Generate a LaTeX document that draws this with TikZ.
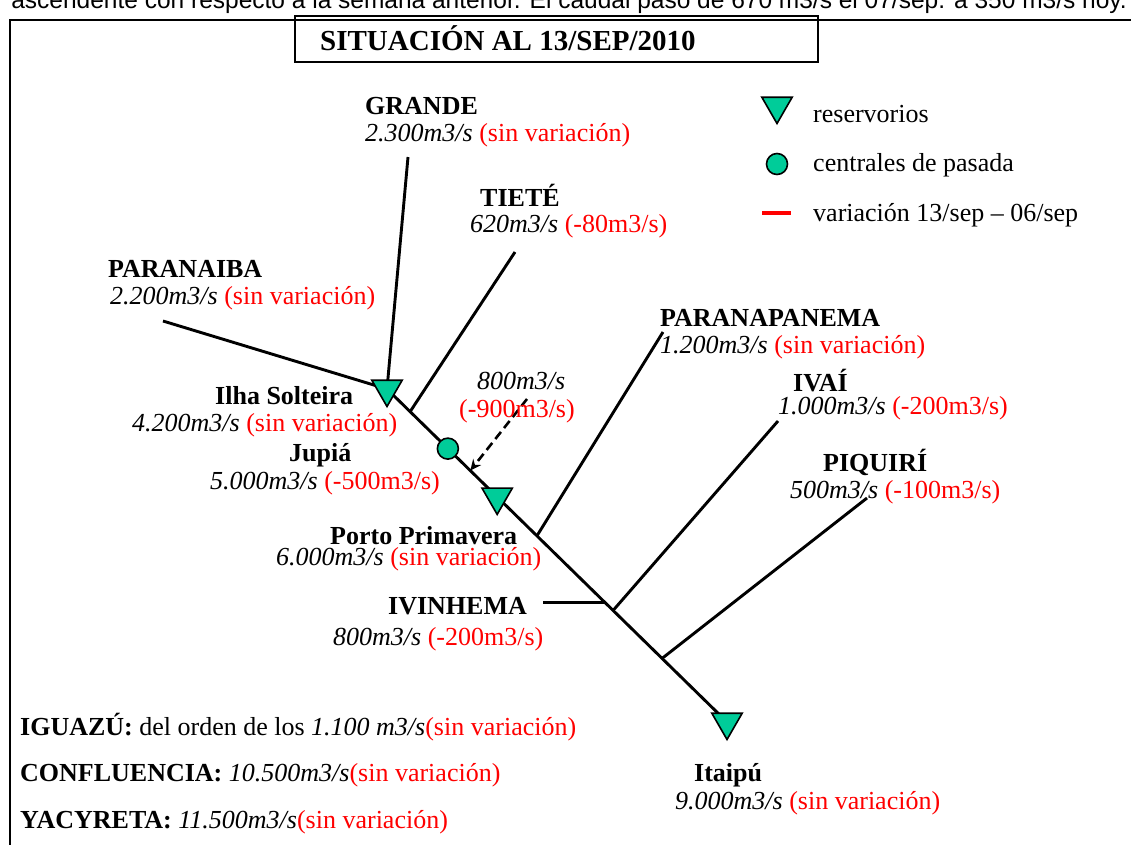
\documentclass[tikz,border=0pt]{standalone}
\usepackage{fontspec}
\setmainfont{Liberation Serif}
\newfontfamily\topsans{Liberation Sans}
\usetikzlibrary{shapes.geometric,arrows.meta,calc}
\definecolor{tealfill}{RGB}{0,204,153}
\definecolor{redtxt}{RGB}{255,0,0}
\newcommand{\rv}[1]{\textcolor{redtxt}{#1}}
\tikzset{
  lbl/.style={anchor=base west, inner sep=0pt, font=\fontsize{26}{30}\selectfont},
  blbl/.style={lbl, font=\bfseries\fontsize{26}{30}\selectfont},
  river/.style={line width=2.9pt},
  resv/.style={regular polygon, regular polygon sides=3, shape border rotate=180, draw, line width=1.6pt, fill=tealfill, inner sep=0pt, minimum size=35pt},
  pasada/.style={circle, draw, line width=1.6pt, fill=tealfill, inner sep=0pt, minimum size=21pt},
  frame/.style={line width=2.5pt},
}
\begin{document}
\begin{tikzpicture}[x=1pt,y=-1pt]
\useasboundingbox (0,0) rectangle (1131,844);
% cut-off line of text above the frame
\node[anchor=base east, inner sep=0pt, font=\topsans\fontsize{24.5}{28}\selectfont] (toptext) at (1127,8) {ascendente con respecto a la semana anterior. El caudal pasó de 670 m3/s el 07/sep. a 350 m3/s hoy.};
% frame
\draw[frame] (10,850) -- (10,20) -- (1140,20);
% title
\draw[frame] (295,16) rectangle (818,62);
\node[anchor=base west, inner sep=0pt, font=\bfseries\fontsize{29}{33}\selectfont] (title) at (320,50) {SITUACIÓN AL 13/SEP/2010};

% legend
\node[resv] (legres) at (777,106) {};
\node[lbl] (legrestxt) at (813,122) {reservorios};
\node[pasada] (legpas) at (777,164) {};
\node[lbl] (legpastxt) at (813,171) {centrales de pasada};
\coordinate (legvarA) at (762,213);
\coordinate (legvarB) at (791,213);
\draw[redtxt, line width=4pt] (legvarA) -- (legvarB);
\node[lbl] (legvartxt) at (813,221) {variación 13/sep – 06/sep};

% river network coordinates
\coordinate (ilhaC) at (387,389);
\coordinate (itaC) at (727,722);
\coordinate (parS) at (163,321);
\coordinate (graS) at (408,157);
\coordinate (tieS) at (515,252);
\coordinate (ppS) at (663,332);
\coordinate (ivaS) at (778,421);
\coordinate (piqS) at (867,498);
\coordinate (ivnS) at (543,604);
\coordinate (arrS) at (527,399);
\coordinate (jTie) at ($(ilhaC)!0.068!(itaC)$);
\coordinate (jupC) at ($(ilhaC)!0.179!(itaC)$);
\coordinate (jArr) at ($(ilhaC)!0.245!(itaC)$);
\coordinate (ppC) at ($(ilhaC)!0.324!(itaC)$);
\coordinate (jPP) at ($(ilhaC)!0.441!(itaC)$);
\coordinate (jIvn) at ($(ilhaC)!0.64!(itaC)$);
\coordinate (jIva) at ($(ilhaC)!0.665!(itaC)$);
\coordinate (jPiq) at ($(ilhaC)!0.809!(itaC)$);

% rivers
\draw[river] (parS) -- (ilhaC) -- (itaC);
\draw[river] (graS) -- (ilhaC);
\draw[river] (tieS) -- (jTie);
\draw[river] (ppS) -- (jPP);
\draw[river] (ivaS) -- (jIva);
\draw[river] (piqS) -- (jPiq);
\draw[river] (ivnS |- jIvn) -- (jIvn);
\draw[line width=2.6pt, dash pattern=on 9pt off 5pt, -{Stealth[length=11pt,width=10pt]}] (arrS) -- (jArr);

% plants
\node[resv] (ilha) at (ilhaC) {};
\node[pasada] (jupia) at (jupC) {};
\node[resv] (porto) at (ppC) {};
\node[resv] (itaipu) at (itaC) {};

% labels
\node[blbl] (grandeN) at (365,114) {GRANDE};
\node[lbl] (grandeQ) at (365,141) {\textit{2.300m3/s} \rv{(sin variación)}};
\node[blbl] (tieteN) at (480,206) {TIETÉ};
\node[lbl] (tieteQ) at (470,232) {\textit{620m3/s} \rv{(-80m3/s)}};
\node[blbl] (paranaibaN) at (108,277) {PARANAIBA};
\node[lbl] (paranaibaQ) at (110,304) {\textit{2.200m3/s} \rv{(sin variación)}};
\node[blbl] (paranapN) at (660,326) {PARANAPANEMA};
\node[lbl] (paranapQ) at (660,353) {\textit{1.200m3/s} \rv{(sin variación)}};
\node[blbl] (ivaiN) at (793,391) {IVAÍ};
\node[lbl] (ivaiQ) at (778,414) {\textit{1.000m3/s} \rv{(-200m3/s)}};
\node[blbl] (piquiriN) at (823,471) {PIQUIRÍ};
\node[lbl] (piquiriQ) at (790,498) {\textit{500m3/s} \rv{(-100m3/s)}};
\node[lbl] (arrQ) at (477,389) {\textit{800m3/s}};
\node[lbl] (arrV) at (459,417) {\rv{(-900m3/s)}};
\node[blbl] (ilhaN) at (215,404) {Ilha Solteira};
\node[lbl] (ilhaQ) at (132,431) {\textit{4.200m3/s} \rv{(sin variación)}};
\node[blbl] (jupiaN) at (289,461) {Jupiá};
\node[lbl] (jupiaQ) at (210,489) {\textit{5.000m3/s} \rv{(-500m3/s)}};
\node[blbl] (portoN) at (330,544) {Porto Primavera};
\node[lbl] (portoQ) at (276,565) {\textit{6.000m3/s} \rv{(sin variación)}};
\node[blbl] (ivinN) at (388,614) {IVINHEMA};
\node[lbl] (ivinQ) at (333,645) {\textit{800m3/s} \rv{(-200m3/s)}};
\node[blbl] (itaipuN) at (694,781) {Itaipú};
\node[lbl] (itaipuQ) at (675,809) {\textit{9.000m3/s} \rv{(sin variación)}};
\node[lbl] (iguazu) at (20,735) {\textbf{IGUAZÚ:} del orden de los \textit{1.100 m3/s}\rv{(sin variación)}};
\node[lbl] (confl) at (20,781) {\textbf{CONFLUENCIA:} \textit{10.500m3/s}\rv{(sin variación)}};
\node[lbl] (yacy) at (20,828) {\textbf{YACYRETA:} \textit{11.500m3/s}\rv{(sin variación)}};
\end{tikzpicture}
\end{document}
